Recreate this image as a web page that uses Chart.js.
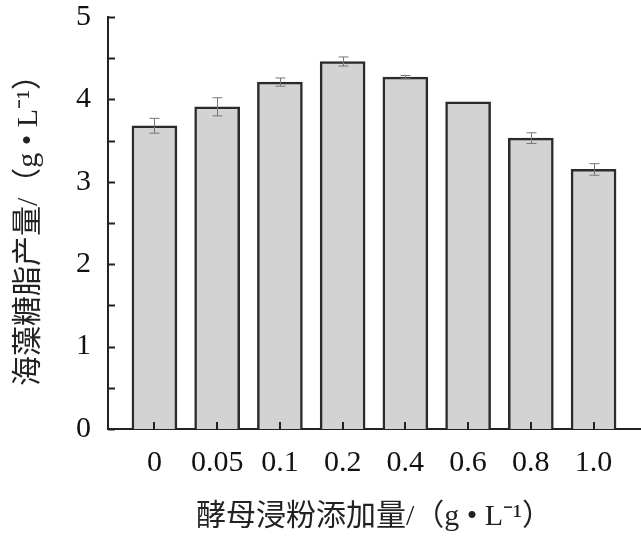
<!DOCTYPE html>
<html>
<head>
<meta charset="utf-8">
<title>海藻糖脂产量</title>
<script src="https://cdn.jsdelivr.net/npm/chart.js"></script>
<style>
    body { margin: 0; background: #fff; }
    .wrap { width: 641px; height: 540px; }
</style>
</head>
<body>
<div class="wrap"><canvas id="chart"></canvas></div>
<script>
// yeast extract dose (g/L) and trehalose lipid yield (g/L)
const doses = ['0', '0.05', '0.1', '0.2', '0.4', '0.6', '0.8', '1.0'];
const yields = [3.68, 3.91, 4.21, 4.46, 4.27, 3.97, 3.53, 3.15];
const errs = [0.09, 0.11, 0.05, 0.055, 0.02, 0, 0.065, 0.07];
const yTicks = [0, 1, 2, 3, 4, 5];
const yMinor = [0.5, 1.5, 2.5, 3.5, 4.5];

const serif = "'Liberation Serif', 'Noto Sans CJK SC', serif";

// inward tick marks + error bars
const extras = {
    id: 'extras',
    afterDatasetsDraw(chart) {
        const ctx = chart.ctx;
        const x = chart.scales.x, y = chart.scales.y;
        const area = chart.chartArea;
        ctx.save();
        ctx.strokeStyle = '#222';
        ctx.lineWidth = 2;
        ctx.beginPath();
        yTicks.concat(yMinor).forEach(v => {
            const py = Math.round(y.getPixelForValue(v)) + 0.5;
            ctx.moveTo(area.left, py);
            ctx.lineTo(area.left + 7, py);
        });
        doses.forEach((d, i) => {
            const px = Math.round(x.getPixelForValue(i));
            ctx.moveTo(px, area.bottom);
            ctx.lineTo(px, area.bottom - 7);
        });
        ctx.stroke();

        ctx.strokeStyle = '#777';
        ctx.lineWidth = 1;
        ctx.beginPath();
        yields.forEach((v, i) => {
            if (!errs[i]) return;
            const px = Math.round(x.getPixelForValue(i)) + 0.5;
            const top = y.getPixelForValue(v + errs[i]);
            const bot = y.getPixelForValue(v - errs[i]);
            ctx.moveTo(px, top); ctx.lineTo(px, bot);
            ctx.moveTo(px - 5, top); ctx.lineTo(px + 5, top);
            ctx.moveTo(px - 5, bot); ctx.lineTo(px + 5, bot);
        });
        ctx.stroke();
        ctx.restore();
    }
};

new Chart(document.getElementById('chart'), {
    type: 'bar',
    data: {
        datasets: [{
            data: yields.map((v, i) => ({ x: i, y: v })),
            backgroundColor: '#d3d3d3',
            borderColor: '#2b2b2b',
            borderWidth: 2.5,
            barThickness: 45
        }]
    },
    options: {
        responsive: true,
        maintainAspectRatio: false,
        animation: false,
        layout: { padding: { top: 17, right: 1, left: 0, bottom: 0 } },
        plugins: { legend: { display: false }, tooltip: { enabled: false } },
        scales: {
            x: {
                type: 'linear',
                offset: false,
                min: -0.74,
                max: 7.74,
                afterBuildTicks: s => { s.ticks = doses.map((d, i) => ({ value: i })); },
                afterFit: s => { s.height = 111; },
                grid: { display: false, drawTicks: false },
                border: { display: true, color: '#222', width: 2 },
                ticks: {
                    padding: 16,
                    color: '#111',
                    font: { family: serif, size: 30 },
                    maxRotation: 0,
                    autoSkip: false,
                    callback: v => doses[v]
                },
                title: {
                    display: true,
                    text: '酵母浸粉添加量/（g • L⁻¹）',
                    color: '#222',
                    font: { family: serif, size: 30 },
                    padding: { top: 0, bottom: 5 }
                }
            },
            y: {
                min: 0,
                max: 5,
                afterBuildTicks: s => { s.ticks = yTicks.map(v => ({ value: v })); },
                afterFit: s => { s.width = 108; s.paddingTop = 0; s.paddingBottom = 0; },
                grid: { display: false, drawTicks: false },
                border: { display: true, color: '#222', width: 2 },
                ticks: {
                    padding: 17,
                    color: '#111',
                    font: { family: serif, size: 30 }
                },
                title: {
                    display: true,
                    text: '海藻糖脂产量/（g • L⁻¹）',
                    color: '#222',
                    font: { family: serif, size: 30 },
                    padding: { top: 11, bottom: 0 }
                }
            }
        }
    },
    plugins: [extras]
});
</script>
</body>
</html>
